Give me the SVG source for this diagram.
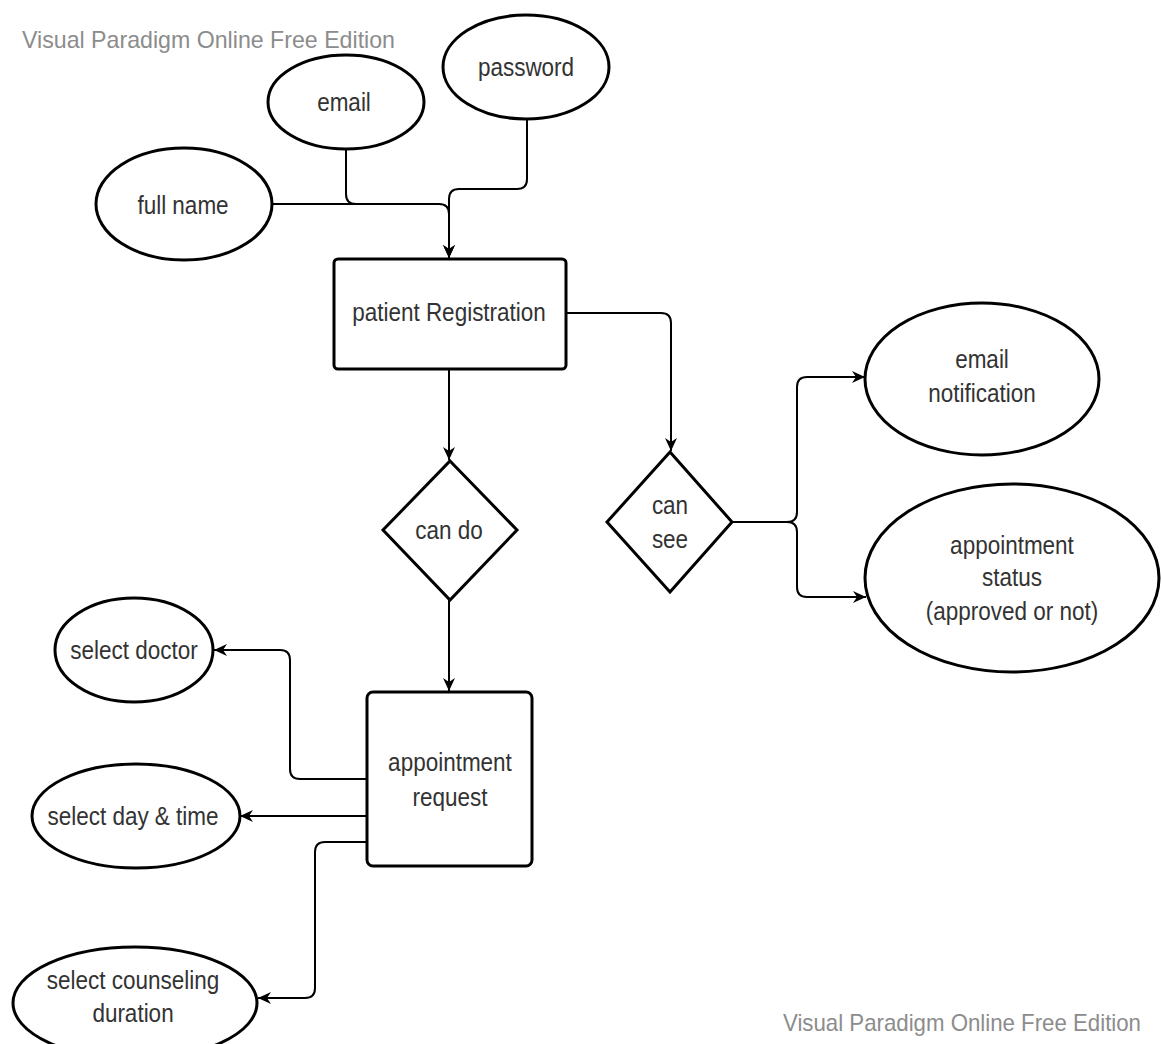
<svg xmlns="http://www.w3.org/2000/svg" width="1161" height="1044" viewBox="0 0 1161 1044">
<style>
.node{fill:#fff;stroke:#000;stroke-width:3}
.lbl{font-family:"Liberation Sans",Arial,sans-serif;font-size:25px;fill:#333;text-anchor:middle;dominant-baseline:central}
.wm{font-family:"Liberation Sans",Arial,sans-serif;font-size:24px;fill:#8c8c8c}
.edge{fill:none;stroke:#000;stroke-width:2;marker-end:url(#arr)}
</style>
<defs>
<marker id="arr" markerUnits="userSpaceOnUse" markerWidth="14" markerHeight="14" viewBox="0 0 14 12" refX="13" refY="6" orient="auto">
<path d="M0,0 L13,6 L0,12 L4,6 Z" fill="#000"/>
</marker>
</defs>
<rect width="1161" height="1044" fill="#fff"/>
<text class="wm" x="22" y="48" textLength="373" lengthAdjust="spacingAndGlyphs">Visual Paradigm Online Free Edition</text>
<text class="wm" x="783" y="1031" textLength="358" lengthAdjust="spacingAndGlyphs">Visual Paradigm Online Free Edition</text>

<g id="connectors">
<path class="edge" d="M272,204 H439 Q449,204 449,214 V258"/>
<path d="M346,149 V194 Q346,204 356,204" fill="none" stroke="#000" stroke-width="2"/>
<path class="edge" d="M527,119 V179 Q527,189 517,189 H459 Q449,189 449,199 V258"/>
<path class="edge" d="M449,369 V460"/>
<path class="edge" d="M566,313 H661 Q671,313 671,323 V451"/>
<path class="edge" d="M732,522 H787 Q797,522 797,512 V387 Q797,377 807,377 H865"/>
<path class="edge" d="M787,522 Q797,522 797,532 V587 Q797,597 807,597 H866"/>
<path class="edge" d="M449,600 V691"/>
<path class="edge" d="M367,779 H300 Q290,779 290,769 V660 Q290,650 280,650 H214"/>
<path class="edge" d="M367,816 H240"/>
<path class="edge" d="M367,842 H325 Q315,842 315,852 V988 Q315,998 305,998 H258"/>
</g>

<g id="password"><ellipse class="node" cx="526" cy="67" rx="83" ry="52"/><text class="lbl" transform="translate(526,67) scale(0.9,1)">password</text></g>
<g id="email"><ellipse class="node" cx="346" cy="102" rx="78" ry="47"/><text class="lbl" transform="translate(344,102) scale(0.9,1)">email</text></g>
<g id="fullname"><ellipse class="node" cx="184" cy="204" rx="88" ry="56"/><text class="lbl" transform="translate(183,205) scale(0.9,1)">full name</text></g>
<g id="registration"><rect class="node" x="334" y="259" width="232" height="110" rx="4"/><text class="lbl" transform="translate(449,312) scale(0.9,1)">patient Registration</text></g>
<g id="cando"><polygon class="node" points="450,461 517,530 450,600 383,530"/><text class="lbl" transform="translate(449,530) scale(0.9,1)">can do</text></g>
<g id="cansee"><polygon class="node" points="670,452 732,522 670,592 607,522"/><text class="lbl" transform="translate(670,505) scale(0.9,1)">can</text><text class="lbl" transform="translate(670,539) scale(0.9,1)">see</text></g>
<g id="emailnotification"><ellipse class="node" cx="982" cy="379" rx="117" ry="76"/><text class="lbl" transform="translate(982,359) scale(0.9,1)">email</text><text class="lbl" transform="translate(982,393) scale(0.9,1)">notification</text></g>
<g id="appointmentstatus"><ellipse class="node" cx="1012" cy="578" rx="147" ry="94"/><text class="lbl" transform="translate(1012,545) scale(0.9,1)">appointment</text><text class="lbl" transform="translate(1012,577) scale(0.9,1)">status</text><text class="lbl" transform="translate(1012,611) scale(0.9,1)">(approved or not)</text></g>
<g id="appointmentrequest"><rect class="node" x="367" y="692" width="165" height="174" rx="6"/><text class="lbl" transform="translate(450,762) scale(0.9,1)">appointment</text><text class="lbl" transform="translate(450,797) scale(0.9,1)">request</text></g>
<g id="selectdoctor"><ellipse class="node" cx="134" cy="650" rx="79" ry="52"/><text class="lbl" transform="translate(134,650) scale(0.9,1)">select doctor</text></g>
<g id="selectdaytime"><ellipse class="node" cx="136" cy="816" rx="104" ry="52"/><text class="lbl" transform="translate(133,816) scale(0.9,1)">select day &amp; time</text></g>
<g id="selectduration"><ellipse class="node" cx="135" cy="1003" rx="122" ry="56"/><text class="lbl" transform="translate(133,980) scale(0.9,1)">select counseling</text><text class="lbl" transform="translate(133,1013) scale(0.9,1)">duration</text></g>
</svg>
